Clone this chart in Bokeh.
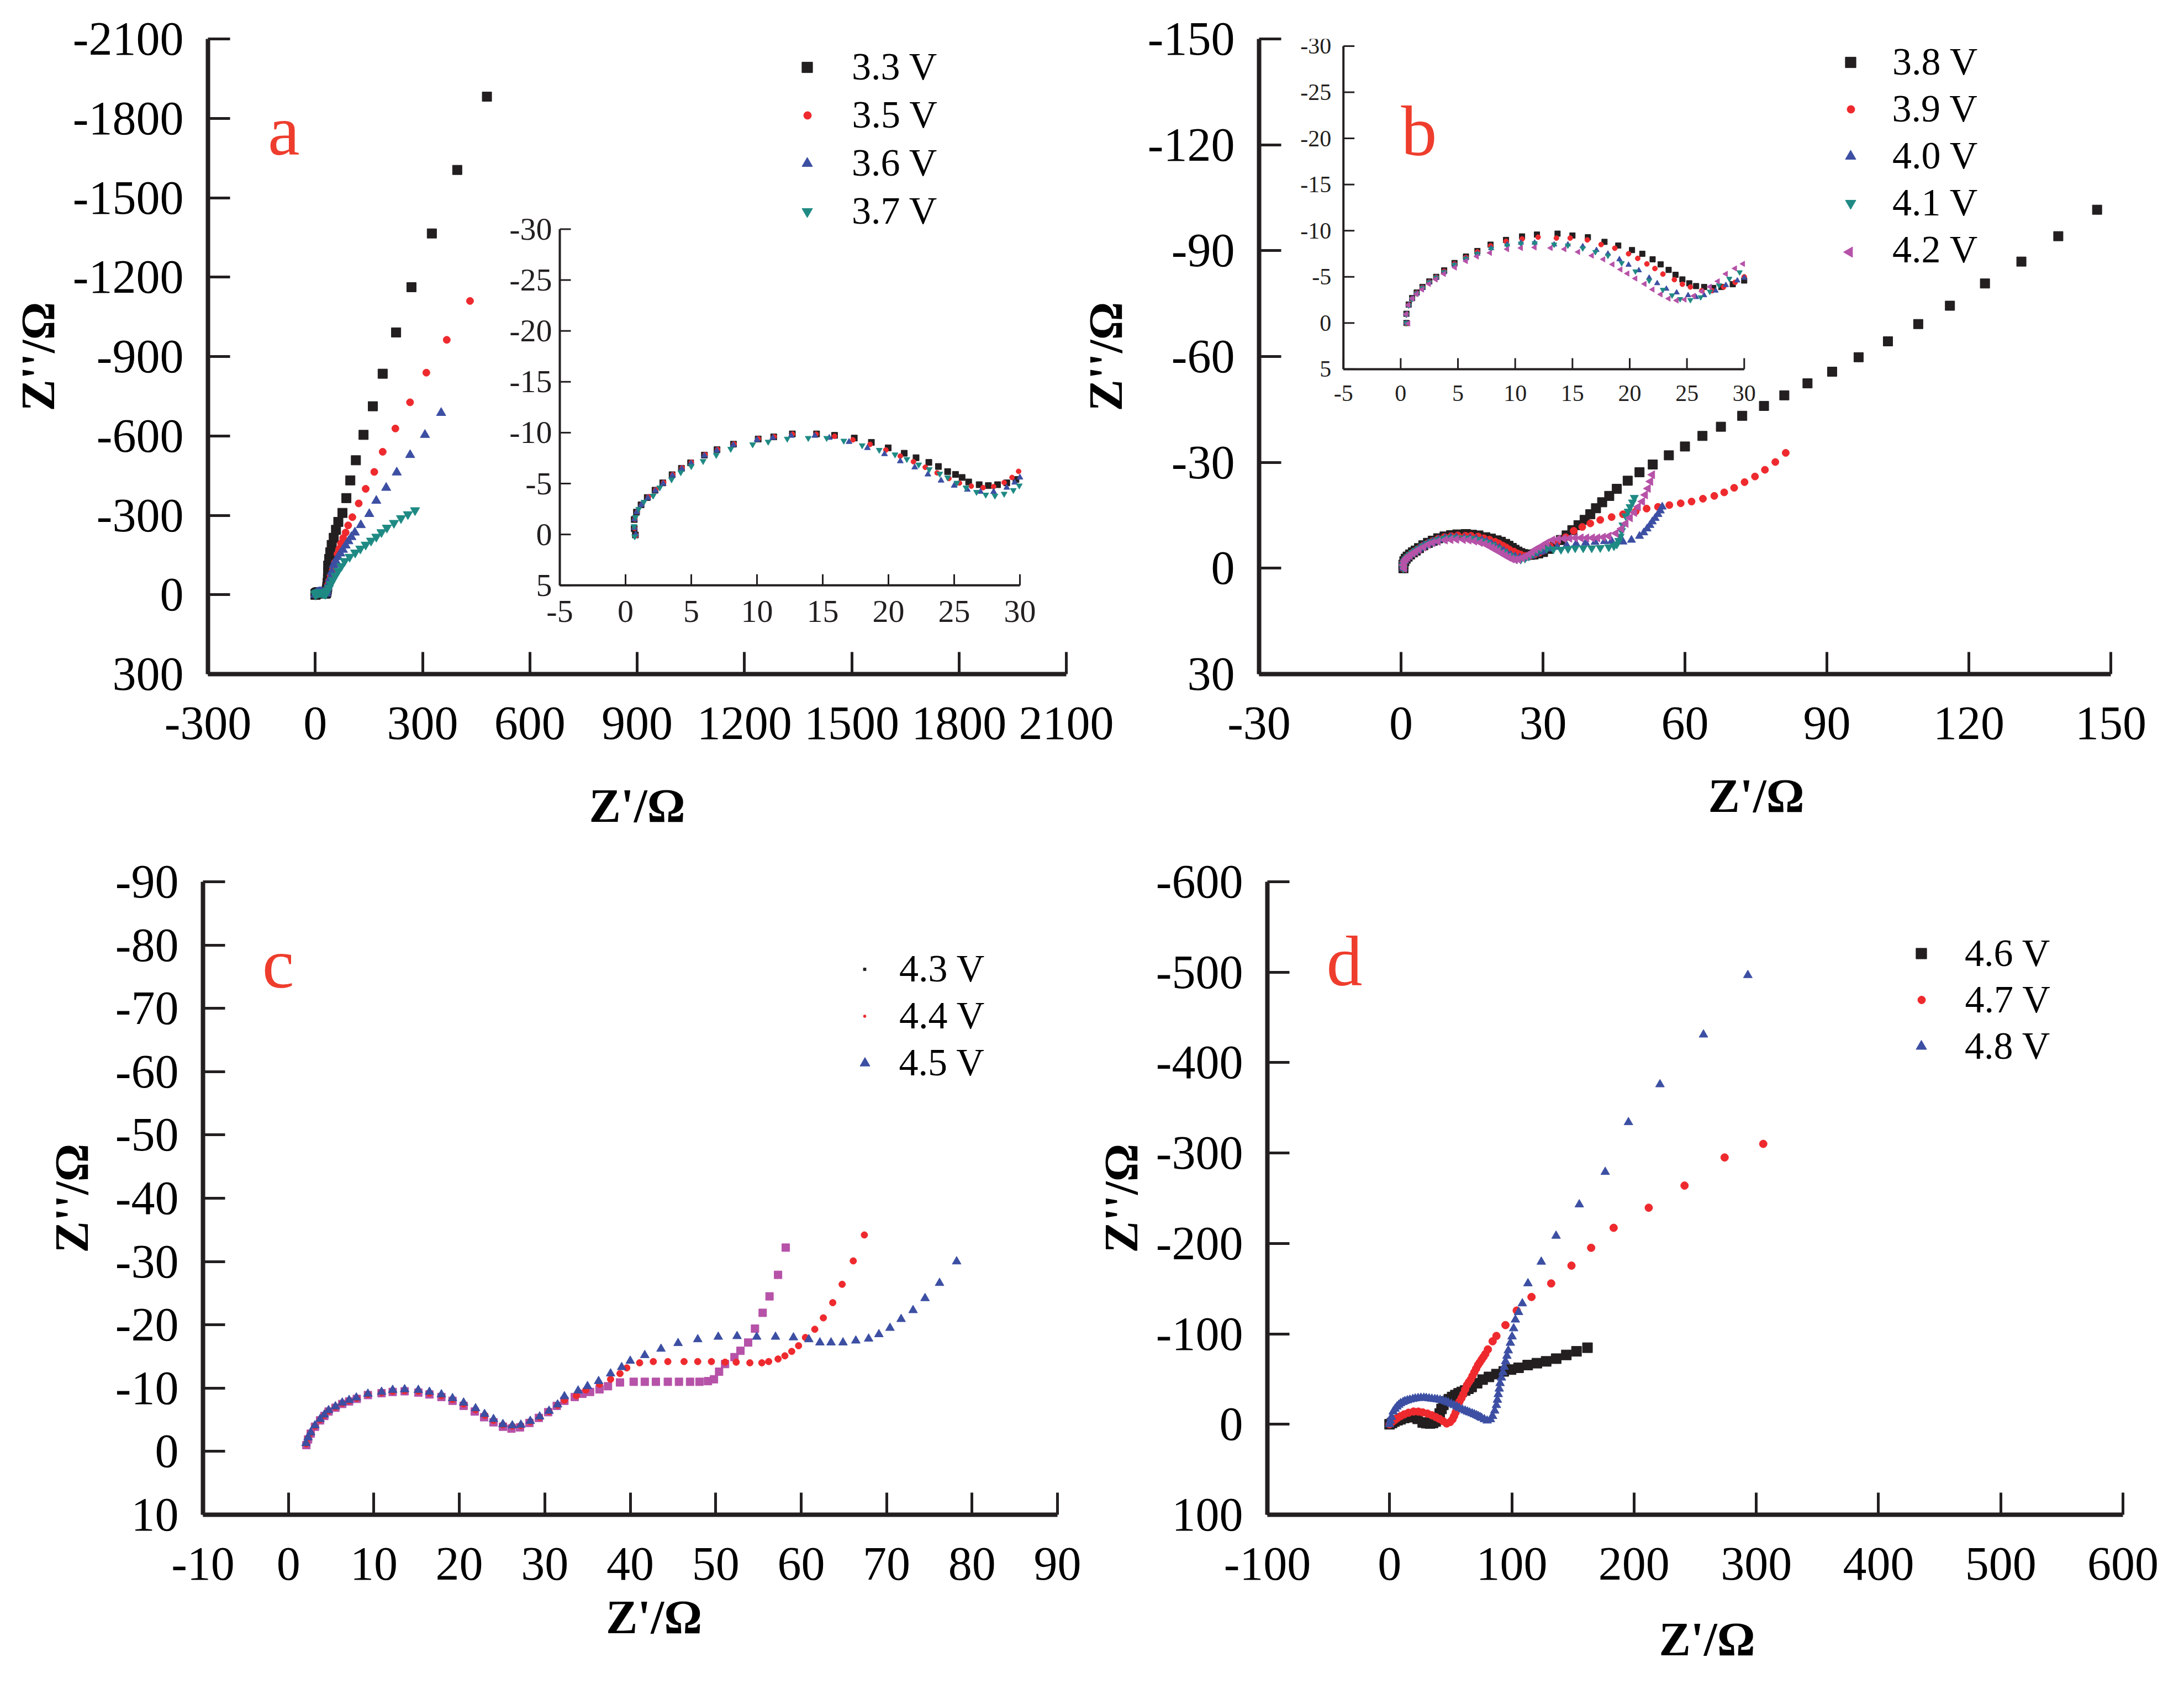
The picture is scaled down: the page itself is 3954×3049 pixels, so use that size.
import math
from bokeh.plotting import figure
from bokeh.models import Range1d, FixedTicker, Legend, LegendItem, Label
from bokeh.layouts import row, column
from bokeh.embed import file_html
from bokeh.resources import INLINE
from bokeh.core.properties import value

# ============================ DATA ============================
# ---- panel a : 3.3 / 3.5 / 3.6 / 3.7 V ----
A33_X = [0.75, 0.66, 0.66, 0.83, 1.18, 1.65, 2.24, 2.83, 3.54, 4.25, 4.95, 6.0, 6.96, 8.21, 10.09, 11.27, 12.69, 14.53, 15.9, 17.4,
         18.7, 19.98, 21.2, 22.1, 23.07, 23.8, 24.5, 25.1, 25.6, 26.1, 26.9, 27.6, 28.3, 29.0, 29.7,
         30.5, 31.5, 32.5, 33.5, 34.5, 35.5, 36.0, 36.2, 39, 42, 46, 51.7, 58, 64.5, 76, 87, 98, 113.6, 135, 161, 188.5, 226, 269, 326, 397, 480]
A33_Y = [0.05, -0.57, -1.47, -2.19, -2.91, -3.63, -4.35, -5.07, -5.87, -6.5, -7.04, -7.8, -8.33, -8.87, -9.38, -9.59, -9.88, -9.88, -9.74, -9.47,
         -9.05, -8.51, -7.98, -7.54, -7.08, -6.68, -6.18, -5.9, -5.6, -5.16, -4.89, -4.8, -4.89, -5.07, -5.4,
         -7, -12, -20, -30, -45, -62, -85, -110, -135, -160, -188, -215, -245, -275, -309, -365, -432, -508, -604, -712, -835, -991, -1162, -1365, -1605, -1882]
A35_X = [0.8, 0.68, 0.7, 0.9, 1.25, 1.75, 2.3, 2.9, 3.6, 4.3, 5.0, 6.05, 7.0, 8.25, 10.1, 11.3, 12.7, 14.5, 15.9, 17.3,
         18.6, 19.8, 20.9, 21.9, 22.8, 23.7, 24.6, 25.4, 26.3, 27.2, 28.0, 28.8, 29.4, 29.9,
         30.5, 32, 34, 36, 39, 43, 49, 55, 62, 67, 72, 78, 85, 92, 103.7, 121.5, 141, 165, 188.5, 224, 265, 310.6, 367.7, 432.7]
A35_Y = [0.1, -0.6, -1.5, -2.25, -2.95, -3.7, -4.4, -5.1, -5.9, -6.55, -7.1, -7.85, -8.35, -8.9, -9.4, -9.6, -9.85, -9.85, -9.65, -9.3,
         -8.85, -8.3, -7.7, -7.15, -6.6, -6.05, -5.5, -5.05, -4.75, -4.6, -4.7, -5.1, -5.6, -6.2,
         -8, -15, -25, -38, -53, -72, -93, -122, -154, -173, -194, -214, -235, -262, -293, -345, -400, -464, -540, -628, -727, -839, -963, -1110]
A36_X = [0.78, 0.67, 0.68, 0.86, 1.2, 1.7, 2.27, 2.86, 3.57, 4.28, 4.98, 6.0, 6.95, 8.2, 10.0, 11.2, 12.6, 14.4, 15.5, 17.0,
         18.4, 19.7, 20.9, 22.0, 23.0, 24.0, 25.0, 26.0, 27.0, 28.0, 29.0, 29.6, 30.0,
         30.8, 32, 34, 37, 41.3, 46, 51.7, 57, 63.5, 70, 77.3, 85, 92.8, 101, 110.8, 127.4, 151, 170.7, 198.3, 227.9, 265.3, 306.7, 352]
A36_Y = [0.0, -0.65, -1.5, -2.2, -2.9, -3.6, -4.3, -5.0, -5.8, -6.45, -7.0, -7.75, -8.25, -8.8, -9.3, -9.5, -9.7, -9.7, -9.5, -9.1,
         -8.5, -7.9, -7.2, -6.6, -5.9, -5.3, -4.8, -4.4, -4.2, -4.2, -4.6, -5.1, -5.6,
         -7, -14, -25, -40, -60, -85, -113, -128, -142, -156, -170, -186, -202, -218, -235, -263, -305, -355, -404, -462, -528, -604, -687]
A37_X = [0.7, 0.65, 0.75, 1.0, 1.4, 2.1, 2.6, 3.5, 4.2, 5.0, 5.9, 6.9, 8.0, 9.67, 10.85, 12.3, 13.9, 15.3, 16.6, 18.0,
         19.3, 20.5, 21.4, 22.3, 23.1, 23.9, 24.5, 25.2, 25.9, 26.7, 27.4, 28.1, 28.8, 29.5, 29.95,
         31, 34, 38, 43, 49, 56, 64, 73, 82, 96, 111.6, 126, 141, 156, 170.7, 185, 200.3, 220, 239.7, 259, 279]
A37_Y = [0.2, -0.8, -1.7, -2.5, -3.2, -3.8, -4.6, -5.4, -6.1, -6.7, -7.2, -7.8, -8.4, -8.84, -9.1, -9.4, -9.47, -9.47, -9.2, -8.75,
         -8.3, -7.85, -7.4, -6.86, -6.4, -5.96, -5.6, -5.07, -4.6, -4.17, -3.9, -3.8, -3.99, -4.35, -4.8,
         -7, -15, -26, -40, -55, -72, -90, -108, -127, -143, -159, -174, -189, -204, -219, -236, -253, -271, -289, -304, -319]

# ---- panel b : 3.8 / 3.9 / 4.0 / 4.1 / 4.2 V ----
B38_X = [0.5, 0.5, 0.7, 1.0, 1.4, 1.9, 2.5, 3.1, 3.8, 4.7, 5.7, 6.7, 7.85, 9.2, 10.6, 11.9, 13.7, 15.0, 16.35, 17.8,
         19.0, 20.2, 21.1, 22.0, 22.7, 23.4, 24.0, 24.6, 25.2, 25.8, 26.5, 27.3, 28.0, 29.0, 30.0,
         31.2, 32.5, 33.8, 35, 36.2, 37.5, 38.8, 40, 41.2, 42.5, 44, 45.6, 47.9, 50.4, 53.2, 56.6, 60, 63.7, 67.6, 72.1,
         76.7, 81, 85.9, 91.1, 96.7, 102.9, 109.3, 116, 123.4, 131.1, 138.9, 147.1]
B38_Y = [0.0, -1.0, -2.0, -2.7, -3.3, -3.9, -4.5, -5.0, -5.7, -6.5, -7.2, -7.8, -8.49, -9.0, -9.38, -9.58, -9.68, -9.48, -9.29, -8.79,
         -8.39, -7.9, -7.5, -6.9, -6.35, -5.75, -5.22, -4.72, -4.3, -4.0, -3.9, -3.8, -3.9, -4.2, -4.6,
         -5.5, -6.7, -8.0, -9.3, -10.8, -12.2, -13.7, -15.3, -17.0, -18.7, -20.5, -22.5, -24.8, -27.2, -29.4, -32.0, -34.5, -37.5, -40.1, -43.2,
         -46.0, -49.0, -52.4, -55.7, -59.8, -64.3, -69.2, -74.4, -80.7, -86.9, -94.1, -101.6]
B39_X = [0.5, 0.52, 0.7, 1.0, 1.4, 1.9, 2.5, 3.1, 3.8, 4.7, 5.7, 6.7, 7.85, 9.2, 10.6, 12.0, 13.6, 14.8, 16.3, 17.5,
         18.7, 19.9, 20.7, 21.5, 22.2, 22.9, 23.9, 24.6, 25.3, 26.3, 27.2, 28.2, 29.2, 30.0,
         31.5, 33, 34.8, 36.5, 38.3, 40, 42.1, 44.5, 46.9, 49.6, 51.9, 54.3, 56.7, 59.1, 61.4, 63.8, 66.2, 68.3, 70.4, 72.6,
         74.8, 76.9, 79.1, 81.3]
B39_Y = [0.05, -0.95, -1.95, -2.65, -3.25, -3.85, -4.45, -4.95, -5.6, -6.4, -7.1, -7.7, -8.35, -8.85, -9.1, -9.3, -9.2, -9.2, -9.0, -8.5,
         -8.1, -7.5, -7.0, -6.4, -5.9, -5.3, -4.7, -4.2, -3.9, -3.5, -3.5, -3.9, -4.4, -5.0,
         -6.2, -7.5, -8.8, -10.6, -11.7, -12.7, -13.7, -14.5, -15.3, -16.1, -16.9, -17.4, -17.9, -18.4, -18.9, -19.7, -20.5, -21.5, -22.8, -24.4,
         -26.0, -27.9, -30.1, -32.7]
B40_X = [0.5, 0.5, 0.7, 1.0, 1.4, 1.9, 2.5, 3.1, 3.8, 4.7, 5.7, 6.7, 7.9, 9.3, 10.5, 11.7, 13.4, 14.6, 15.9, 17.1,
         18.1, 19.1, 19.9, 20.8, 21.7, 22.4, 23.2, 24.1, 25.1, 25.8, 26.5, 27.5, 28.4, 29.4, 30.0,
         31.5, 33, 35, 37, 39, 41, 43, 44.5, 46, 46.9, 48.7, 50.4, 51.3, 52.0, 52.6, 53.1, 53.7, 54.3, 54.8, 55.2]
B40_Y = [0.0, -0.95, -1.95, -2.65, -3.2, -3.8, -4.4, -4.9, -5.5, -6.3, -7.0, -7.5, -8.1, -8.5, -8.7, -8.7, -8.5, -8.5, -8.3, -7.9,
         -7.5, -6.9, -6.3, -5.7, -4.9, -4.3, -3.7, -3.3, -3.0, -2.8, -3.0, -3.5, -4.1, -4.6, -4.9,
         -5.5, -6.0, -6.5, -6.9, -7.2, -7.4, -7.6, -7.7, -7.6, -7.5, -8.0, -9.1, -10.1, -11.2, -12.2, -13.2, -14.2, -15.3, -16.3, -17.4]
B41_X = [0.5, 0.5, 0.7, 1.0, 1.4, 1.9, 2.5, 3.1, 3.8, 4.7, 5.7, 6.7, 7.9, 9.3, 10.5, 11.7, 13.4, 14.6, 15.9, 17.0,
         18.1, 19.3, 20.5, 21.7, 22.9, 23.7, 24.4, 25.3, 26.2, 27.0, 27.8, 28.7, 29.6,
         30.8, 32.2, 33.8, 35.3, 36.8, 38.5, 40.3, 42.1, 43.9, 45.0, 45.6, 46.0, 46.3, 46.6, 46.9, 47.5, 48.0, 48.4, 48.9, 49.3]
B41_Y = [0.0, -0.9, -1.9, -2.6, -3.2, -3.8, -4.4, -4.9, -5.5, -6.3, -6.95, -7.5, -8.05, -8.4, -8.6, -8.65, -8.5, -8.4, -8.1, -7.7,
         -7.3, -6.5, -5.6, -4.6, -3.6, -3.0, -2.6, -2.5, -2.8, -3.4, -4.1, -4.8, -5.5,
         -5.6, -5.4, -5.3, -5.5, -5.7, -5.7, -5.7, -5.8, -6.0, -6.3, -6.8, -7.8, -9.0, -10.6, -12.2, -14.8, -16.1, -17.4, -18.7, -20.0]
B42_X = [0.67, 0.48, 0.67, 1.03, 1.39, 1.87, 2.47, 3.06, 3.78, 4.74, 5.7, 6.66, 7.8, 9.3, 10.5, 11.7, 13.1, 14.3, 15.5, 16.7,
         17.7, 18.5, 19.2, 19.8, 20.5, 21.3, 22.0, 22.7, 23.4, 24.1, 24.8, 25.6, 26.3, 27.0, 27.7, 28.4, 29.2, 29.9,
         30.8, 32.0, 33.2, 34.4, 35.6, 36.8, 38.0, 39.2, 40.4, 41.5, 42.7, 43.9, 45.4, 46.6, 47.5, 48.4, 49.3, 50.1, 51.0, 51.6,
         52.2, 52.7, 53.1]
B42_Y = [0.04, -0.95, -1.94, -2.64, -3.13, -3.63, -4.23, -4.72, -5.32, -6.01, -6.71, -7.2, -7.6, -8.0, -8.13, -8.19, -8.13, -8.0, -7.7, -7.3,
         -6.9, -6.35, -5.8, -5.36, -4.82, -4.23, -3.63, -3.1, -2.64, -2.44, -2.54, -2.94, -3.43, -3.93, -4.52, -5.32, -5.91, -6.41,
         -7.2, -8.0, -8.3, -8.4, -8.5, -8.6, -8.6, -8.6, -8.6, -8.6, -8.8, -9.1, -9.9, -11.2, -12.7, -14.3, -15.8, -17.4, -18.9, -20.8,
         -22.6, -24.6, -26.5]

# ---- panel c : 4.3 / 4.4 / 4.5 V ----
C43_X = [2.1, 2.3, 2.6, 3.1, 3.7, 4.2, 4.7, 5.5, 6.3, 7.1, 8.0, 9.3, 10.9, 12.2, 13.6, 15.2, 16.5, 17.9, 19.2, 20.5,
         21.8, 22.9, 24.0, 25.1, 26.1, 27.1, 28.2, 29.3, 30.4, 31.4, 32.3, 33.5, 34.4, 35.3, 36.4, 37.4, 38.8, 40.4, 41.7, 43.0,
         44.4, 45.7, 47.0, 48.1, 49.1, 49.8, 50.4, 51.1, 52.2, 52.9, 53.8, 54.6, 55.5, 56.3, 57.3, 58.2]
C43_Y = [-1.0, -1.9, -2.8, -3.9, -4.9, -5.6, -6.3, -6.9, -7.5, -7.9, -8.3, -8.9, -9.2, -9.4, -9.5, -9.3, -9.0, -8.6, -8.0, -7.2,
         -6.3, -5.4, -4.6, -3.9, -3.6, -3.8, -4.5, -5.3, -6.2, -7.2, -8.0, -8.6, -9.1, -9.4, -9.8, -10.3, -10.9, -11.0, -11.0, -11.0,
         -11.0, -11.0, -11.0, -11.0, -11.1, -11.4, -12.6, -13.8, -14.9, -15.9, -17.2, -19.4, -21.9, -24.5, -27.9, -32.2]
C44_X = [2.1, 2.3, 2.6, 3.1, 3.7, 4.2, 4.7, 5.5, 6.3, 7.1, 8.0, 9.3, 10.9, 12.2, 13.6, 15.2, 16.5, 17.9, 19.2, 20.5,
         21.9, 23.0, 24.0, 25.1, 26.2, 27.2, 28.3, 29.4, 30.5, 31.5, 32.3, 33.7, 34.8, 36.4, 37.7, 38.8, 39.6, 41.1, 42.7, 44.4,
         46.3, 47.9, 49.5, 51.1, 52.4, 54.0, 55.4, 56.2, 57.3, 58.1, 58.9, 59.7, 60.5, 61.6, 62.6, 63.7, 64.8, 66.1, 67.4]
C44_Y = [-1.2, -2.1, -2.9, -4.0, -5.0, -5.7, -6.4, -7.0, -7.6, -8.0, -8.4, -9.0, -9.3, -9.5, -9.6, -9.5, -9.2, -8.8, -8.2, -7.5,
         -6.6, -5.7, -4.9, -4.2, -4.0, -4.1, -4.7, -5.4, -6.3, -7.3, -8.1, -8.8, -9.7, -10.6, -11.4, -12.3, -13.2, -14.0, -14.2, -14.2,
         -14.2, -14.2, -14.2, -14.1, -14.1, -14.0, -14.0, -14.2, -14.6, -15.1, -15.8, -16.7, -18.0, -19.3, -21.1, -23.5, -26.4, -30.1, -34.2]
C45_X = [2.06, 2.3, 2.6, 3.1, 3.7, 4.2, 4.7, 5.5, 6.3, 7.1, 7.95, 9.3, 10.9, 12.2, 13.6, 15.2, 16.5, 17.9, 19.2, 20.5,
         21.9, 22.95, 24.0, 25.1, 26.2, 27.2, 28.3, 29.4, 30.5, 31.5, 32.3, 33.9, 35.0, 36.3, 37.7, 39.0, 40.0, 41.7, 43.6, 45.6,
         47.9, 50.3, 52.5, 54.8, 57.0, 59.1, 60.9, 62.2, 63.5, 64.9, 66.4, 67.9, 69.1, 70.4, 71.7, 73.1, 74.5, 76.2, 78.2]
C45_Y = [-1.3, -2.2, -3.0, -4.1, -5.1, -5.8, -6.5, -7.1, -7.7, -8.1, -8.5, -9.1, -9.4, -9.7, -9.8, -9.7, -9.4, -9.0, -8.4, -7.7,
         -6.8, -5.9, -5.1, -4.3, -4.1, -4.2, -4.8, -5.5, -6.4, -7.4, -8.7, -9.6, -10.3, -11.1, -12.3, -13.3, -14.3, -15.2, -16.2, -17.1,
         -17.7, -18.1, -18.2, -18.1, -18.1, -18.0, -17.7, -17.2, -17.2, -17.2, -17.5, -17.8, -18.5, -19.5, -20.9, -22.3, -24.2, -26.6, -30.0]

# ---- panel d : 4.6 / 4.7 / 4.8 V ----
D46_X = [0, 2, 4, 6.5, 9, 12, 15, 19.6, 23, 27.1, 30, 33.1, 35.5, 37.7, 39.5, 41, 42.5, 44, 46.0, 48.5,
         51.2, 53.8, 56.5, 59, 61.8, 64.5, 67.1, 71.6, 76.1, 81.3, 87.4, 93.4, 99.4, 105.5, 113, 120.5, 128.1, 136.3, 144.6, 152.9, 161.9]
D46_Y = [0, -1.5, -3, -4.5, -5.5, -7, -7.8, -8, -6, -2, -1.2, -0.9, -1.5, -3, -7, -12, -17, -21.5, -25.2, -27.8,
         -30.2, -32.3, -34.3, -35.8, -37.3, -39.3, -41.3, -45.4, -49.4, -52.4, -55.5, -58.5, -60.5, -62.5, -65.5, -67.6, -69.6, -72.6, -76.7, -80.7, -84.7]
D47_X = [0, 2, 4, 6, 9, 12, 15.5, 19.6, 23.5, 27.1, 31, 34.6, 37.8, 40.7, 43.8, 46.7, 49.5, 51.5, 52.7, 54,
         55.5, 57.2, 58.8, 60.3, 61.8, 63.3, 64.8, 66.3, 67.8, 69.3, 70.8, 72.3, 73.8, 75.3, 76.8, 78.3, 80.4, 84.3, 87.4, 94.8,
         104.0, 116.1, 132.2, 148.8, 164.9, 183.3, 212.0, 241.3, 274.1, 305.7]
D47_Y = [0, -2.5, -4.5, -6.5, -9, -11, -12.8, -14.1, -14, -13.1, -11.8, -10, -8, -6, -3.5, -0.9, -2.5, -5.5, -9, -13,
         -17.5, -25.2, -29, -33.2, -38.5, -43.3, -46.5, -49.4, -53.5, -57.5, -61.5, -65.5, -68.5, -71.6, -74.5, -77.7, -82.8, -91.8, -97.7, -109.7,
         -125.8, -140.8, -155.8, -175.5, -195.2, -217.3, -239.5, -264.0, -295.1, -310.1]
D48_X = [0, 0.5, 1.5, 3.0, 4.5, 6.0, 7.5, 9.0, 11, 12.5, 14.5, 16.6, 19, 21, 23.3, 25.6, 28, 30, 32.3, 34.6,
         37, 39, 41.3, 43.7, 46, 48, 50.5, 52.7, 55, 57, 59.5, 61.8, 63.7, 65.5, 67.5, 69.3, 71, 72.5, 74, 75.3,
         77.5, 79.8, 82.5, 84.3, 86.0, 87.4, 88.2, 88.9, 89.7, 90.4, 91.5, 92.7, 93.8, 94.9, 96, 97.1, 98.8, 100.2, 101.5, 102.9,
         105.5, 108.6, 113.2, 124.1, 136.2, 155.2, 176.4, 195.4, 221.2, 256.8, 293.1]
D48_Y = [0, -4, -8, -14.1, -17, -19.5, -21.5, -23.2, -24.5, -25.5, -26.4, -27.2, -27.9, -28.5, -28.9, -29.2, -29.2, -29.0, -28.6, -28.2,
         -27.8, -27.5, -26.9, -26.2, -25.2, -24.0, -22.6, -21.1, -19.6, -18.0, -16.5, -15.1, -14.0, -13.0, -12.0, -11.0, -10.0, -9.0, -8.0, -7.0,
         -5.5, -4.0, -5.5, -9.0, -15.0, -21.1, -27.0, -33.2, -39.3, -45.4, -51.5, -57.5, -63.5, -69.6, -75.6, -81.6, -90.0, -97.0, -106.0, -115.7,
         -124.0, -133.6, -155.8, -179.7, -208.4, -243.1, -279.0, -334.0, -375.9, -430.9, -496.7]

# ---- ticks / labels ----
A_XTICKS = [-300, 0, 300, 600, 900, 1200, 1500, 1800, 2100]
A_YTICKS = [-2100, -1800, -1500, -1200, -900, -600, -300, 0, 300]
B_XTICKS = [-30, 0, 30, 60, 90, 120, 150]
B_YTICKS = [-150, -120, -90, -60, -30, 0, 30]
C_XTICKS = [-10, 0, 10, 20, 30, 40, 50, 60, 70, 80, 90]
C_YTICKS = [-90, -80, -70, -60, -50, -40, -30, -20, -10, 0, 10]
D_XTICKS = [-100, 0, 100, 200, 300, 400, 500, 600]
D_YTICKS = [-600, -500, -400, -300, -200, -100, 0, 100]
INSET_XTICKS = [-5, 0, 5, 10, 15, 20, 25, 30]
INSET_YTICKS = [-30, -25, -20, -15, -10, -5, 0, 5]
LABELS_A = ["3.3 V", "3.5 V", "3.6 V", "3.7 V"]
LABELS_B = ["3.8 V", "3.9 V", "4.0 V", "4.1 V", "4.2 V"]
LABELS_C = ["4.3 V", "4.4 V", "4.5 V"]
LABELS_D = ["4.6 V", "4.7 V", "4.8 V"]
X_TITLE = "Z'/Ω"
Y_TITLE = "Z''/Ω"

# ============================ STYLE / LAYOUT ============================
FONT = "Liberation Serif"
INK = "#231f20"
BLACK = "#231f20"
RED = "#ee2a2e"
BLUE = "#3c4fa3"
TEAL = "#1f8a84"
MAGENTA = "#b652a8"
LETTER = "#ee3d2d"
NAN = float("nan")
NBSP = "\u00a0"
LEFT_TRI = math.pi / 2

# page-pixel geometry: canvas (x, y, w, h) and frame (left, top, right, bottom)
CANVAS_A, FRAME_A = (8, 8, 2020, 1540), (384, 78, 1938, 1230)
CANVAS_B, FRAME_B = (1958, 8, 1988, 1540), (2284, 72, 3829, 1228)
CANVAS_C, FRAME_C = (8, 1548, 1962, 1493), (375, 1599, 1922, 2750)
CANVAS_D, FRAME_D = (1970, 1548, 1976, 1493), (2302, 1604, 3851, 2760)
INSET_A_BOX = (1021, 423, 1854, 1069)
INSET_B_BOX = (2437, 85, 3164, 673)


def make_panel(canvas, frame, xr, yr, xticks, yticks, ylab_standoff, xlab_standoff, xlab_shift,
               transparent=False):
    cx, cy, cw, ch = canvas
    fl, ft, fr, fb = frame
    p = figure(width=cw, height=ch, x_range=Range1d(xr[0], xr[1]), y_range=Range1d(yr[0], yr[1]),
               output_backend="svg", toolbar_location=None,
               min_border_left=fl - cx, min_border_right=cx + cw - fr,
               min_border_top=ft - cy, min_border_bottom=cy + ch - fb)
    p.outline_line_color = None
    p.xgrid.visible = False
    p.ygrid.visible = False
    if transparent:
        p.background_fill_alpha = 0
        p.border_fill_alpha = 0
    p.xaxis.ticker = FixedTicker(ticks=xticks)
    p.yaxis.ticker = FixedTicker(ticks=yticks)
    p.xaxis.major_label_overrides = {v: str(v) for v in xticks}
    p.yaxis.major_label_overrides = {v: str(v) for v in yticks}
    for ax in (p.xaxis[0], p.yaxis[0]):
        ax.axis_line_width = 8
        ax.axis_line_color = INK
        ax.major_tick_in = 40
        ax.major_tick_out = 0
        ax.major_tick_line_width = 5
        ax.major_tick_line_color = INK
        ax.minor_tick_line_color = None
        ax.major_label_text_font = FONT
        ax.major_label_text_font_size = "86px"
        ax.major_label_text_color = "black"
        ax.axis_label_text_font = FONT
        ax.axis_label_text_font_size = "86px"
        ax.axis_label_text_font_style = "bold"
        ax.axis_label_text_color = "black"
    p.xaxis.major_label_standoff = 60
    p.yaxis.major_label_standoff = 44
    p.yaxis.axis_label = Y_TITLE
    p.yaxis.axis_label_standoff = ylab_standoff
    # leading no-break spaces shift the centred title to the right, as in the original figure
    p.xaxis.axis_label = NBSP * xlab_shift + X_TITLE
    p.xaxis.axis_label_standoff = xlab_standoff
    return p


def to_data(frame, xr, yr, px, py):
    fl, ft, fr, fb = frame
    return (xr[0] + (px - fl) / (fr - fl) * (xr[1] - xr[0]),
            yr[0] + (fb - py) / (fb - ft) * (yr[1] - yr[0]))


def plot_series(p, xs, ys, marker, color, size, angle=0.0, rng=None, keep=None):
    if keep is not None:
        (x0, x1), (yb, yt) = keep
        pts = [(x, y) for x, y in zip(xs, ys) if x0 <= x <= x1 and yt <= y <= yb]
        xs = [q[0] for q in pts]
        ys = [q[1] for q in pts]
    kw = {}
    if rng is not None:
        kw = dict(x_range_name=rng, y_range_name=rng)
    return p.scatter(x=xs, y=ys, marker=marker, size=size, angle=angle,
                     fill_color=color, line_color=color, line_width=1, **kw)


def add_inset(p, name, frame, box, xlim, ylim, xticks, yticks, font_px, lw, tick_px, xgap, ygap):
    fl, ft, fr, fb = frame
    il, it, ir, ib = box
    ux = (xlim[1] - xlim[0]) / (ir - il)
    uy = (ylim[1] - ylim[0]) / (ib - it)
    p.extra_x_ranges = {name: Range1d(xlim[0] - (il - fl) * ux, xlim[1] + (fr - ir) * ux)}
    p.extra_y_ranges = {name: Range1d(ylim[0] - (fb - ib) * uy, ylim[1] + (it - ft) * uy)}
    kw = dict(x_range_name=name, y_range_name=name)
    p.segment(x0=[xlim[0], xlim[0]], y0=[ylim[0], ylim[0]], x1=[xlim[0], xlim[1]], y1=[ylim[1], ylim[0]],
              line_width=lw, line_color=INK, **kw)
    p.segment(x0=xticks, y0=[ylim[0]] * len(xticks), x1=xticks, y1=[ylim[0] + tick_px * uy] * len(xticks),
              line_width=3, line_color=INK, **kw)
    p.segment(x0=[xlim[0]] * len(yticks), y0=yticks, x1=[xlim[0] + tick_px * ux] * len(yticks), y1=yticks,
              line_width=3, line_color=INK, **kw)
    p.text(x=[xlim[0]] * len(yticks), y=yticks, text=[str(v) for v in yticks], x_offset=-xgap,
           text_align="right", text_baseline="middle", text_font=value(FONT),
           text_font_size=value(f"{font_px}px"), text_color=INK, **kw)
    p.text(x=xticks, y=[ylim[0]] * len(xticks), text=[str(v) for v in xticks], y_offset=ygap,
           text_align="center", text_baseline="top", text_font=value(FONT),
           text_font_size=value(f"{font_px}px"), text_color=INK, **kw)


def add_legend(p, frame, labels, specs, marker_x, text_x, first_y, pitch):
    fl, ft, fr, fb = frame
    for i, (lab, (marker, color, size, angle)) in enumerate(zip(labels, specs)):
        hidden = angle != 0.0          # rotated keys are drawn as a separate mark
        proxy = p.scatter(x=[NAN], y=[NAN], marker=marker, size=size,
                          fill_color=color, line_color=color,
                          fill_alpha=0 if hidden else 1, line_alpha=0 if hidden else 1)
        gw = int(round(size / 0.4))
        cy = first_y + i * pitch
        lg = Legend(items=[LegendItem(label=lab, renderers=[proxy])],
                    location=(float(marker_x - gw / 2 - fl), float(fb - (cy + pitch / 2))),
                    orientation="vertical", glyph_width=gw, glyph_height=int(pitch), label_height=int(pitch),
                    label_width=180, spacing=0, padding=0, margin=0,
                    label_standoff=int(round(text_x - (marker_x + gw / 2))),
                    border_line_color=None, background_fill_alpha=0,
                    label_text_font=FONT, label_text_font_size="70px",
                    label_text_color="black", label_text_baseline="middle")
        p.add_layout(lg)


def letter(p, x, y, txt):
    p.add_layout(Label(x=x, y=y, text=txt, text_font=FONT, text_font_size="130px",
                       text_color=LETTER, text_align="center", text_baseline="alphabetic"))


# ---------------- panel a ----------------
A_XR, A_YR = (-300, 2100), (300, -2100)
pa = make_panel(CANVAS_A, FRAME_A, A_XR, A_YR, A_XTICKS, A_YTICKS, 12, 70, 0)
series_a = [(A33_X, A33_Y, "square", BLACK, 17, 0.0), (A35_X, A35_Y, "circle", RED, 13, 0.0),
            (A36_X, A36_Y, "triangle", BLUE, 17, 0.0), (A37_X, A37_Y, "inverted_triangle", TEAL, 17, 0.0)]
for xs, ys, m, c, s, ang in series_a:
    plot_series(pa, xs, ys, m, c, s, ang)
add_inset(pa, "ins", FRAME_A, INSET_A_BOX, (-5, 30), (5, -30), INSET_XTICKS, INSET_YTICKS, 58, 4, 20, 14, 28)
for xs, ys, m, c, s, ang in series_a:
    plot_series(pa, xs, ys, m, c, 11 if m != "circle" else 9, ang, rng="ins", keep=((-5, 30), (5, -30)))
add_legend(pa, FRAME_A, LABELS_A, [("square", BLACK, 19, 0.0), ("circle", RED, 14, 0.0),
                                   ("triangle", BLUE, 19, 0.0), ("inverted_triangle", TEAL, 19, 0.0)],
           1469, 1550, 131, 87)
letter(pa, -88, -1754, "a")

# ---------------- panel b ----------------
B_XR, B_YR = (-30, 150), (30, -150)
pb = make_panel(CANVAS_B, FRAME_B, B_XR, B_YR, B_XTICKS, B_YTICKS, 25, 52, 12, transparent=True)
pb.margin = (0, 0, 0, CANVAS_B[0] - (CANVAS_A[0] + CANVAS_A[2]))
series_b = [(B38_X, B38_Y, "square", BLACK, 17, 0.0), (B39_X, B39_Y, "circle", RED, 13, 0.0),
            (B40_X, B40_Y, "triangle", BLUE, 15, 0.0), (B41_X, B41_Y, "inverted_triangle", TEAL, 15, 0.0),
            (B42_X, B42_Y, "triangle", MAGENTA, 15, LEFT_TRI)]
for xs, ys, m, c, s, ang in series_b:
    plot_series(pb, xs, ys, m, c, s, ang)
add_inset(pb, "ins", FRAME_B, INSET_B_BOX, (-5, 30), (5, -30), INSET_XTICKS, INSET_YTICKS, 42, 4, 20, 22, 30)
for xs, ys, m, c, s, ang in series_b:
    plot_series(pb, xs, ys, m, c, 10 if m != "circle" else 9, ang, rng="ins", keep=((-5, 30), (5, -30)))
B_LEG_X, B_LEG_Y0, B_LEG_PITCH = 3355, 120, 85
add_legend(pb, FRAME_B, LABELS_B, [("square", BLACK, 19, 0.0), ("circle", RED, 14, 0.0),
                                   ("triangle", BLUE, 19, 0.0), ("inverted_triangle", TEAL, 19, 0.0),
                                   ("triangle", MAGENTA, 19, LEFT_TRI)],
           B_LEG_X, 3431, B_LEG_Y0, B_LEG_PITCH)
kx, ky = to_data(FRAME_B, B_XR, B_YR, B_LEG_X, B_LEG_Y0 + 4 * B_LEG_PITCH)
pb.scatter(x=[kx], y=[ky], marker="triangle", size=19, angle=LEFT_TRI, fill_color=MAGENTA, line_color=MAGENTA)
letter(pb, 3.8, -124, "b")

# ---------------- panel c ----------------
pc = make_panel(CANVAS_C, FRAME_C, (-10, 90), (10, -90), C_XTICKS, C_YTICKS, 28, 17, 4)
for xs, ys, m, c, s in [(C43_X, C43_Y, "square", MAGENTA, 14), (C44_X, C44_Y, "circle", RED, 12),
                        (C45_X, C45_Y, "triangle", BLUE, 16)]:
    plot_series(pc, xs, ys, m, c, s)
add_legend(pc, FRAME_C, LABELS_C, [("square", BLACK, 5, 0.0), ("circle", RED, 5, 0.0), ("triangle", BLUE, 18, 0.0)],
           1573, 1636, 1762, 85)
letter(pc, -1.2, -77.1, "c")

# ---------------- panel d ----------------
pd = make_panel(CANVAS_D, FRAME_D, (-100, 600), (100, -600), D_XTICKS, D_YTICKS, 12, 57, 2)
for xs, ys, m, c, s in [(D46_X, D46_Y, "square", BLACK, 18), (D47_X, D47_Y, "circle", RED, 14),
                        (D48_X, D48_Y, "triangle", BLUE, 16)]:
    plot_series(pd, xs, ys, m, c, s)
add_legend(pd, FRAME_D, LABELS_D, [("square", BLACK, 19, 0.0), ("circle", RED, 14, 0.0), ("triangle", BLUE, 19, 0.0)],
           3486, 3565, 1744, 84)
letter(pd, -37, -512.6, "d")

layout = column(row(pa, pb), row(pc, pd))
open("out.html", "w").write(file_html(layout, INLINE, title="EIS Nyquist plots"))
